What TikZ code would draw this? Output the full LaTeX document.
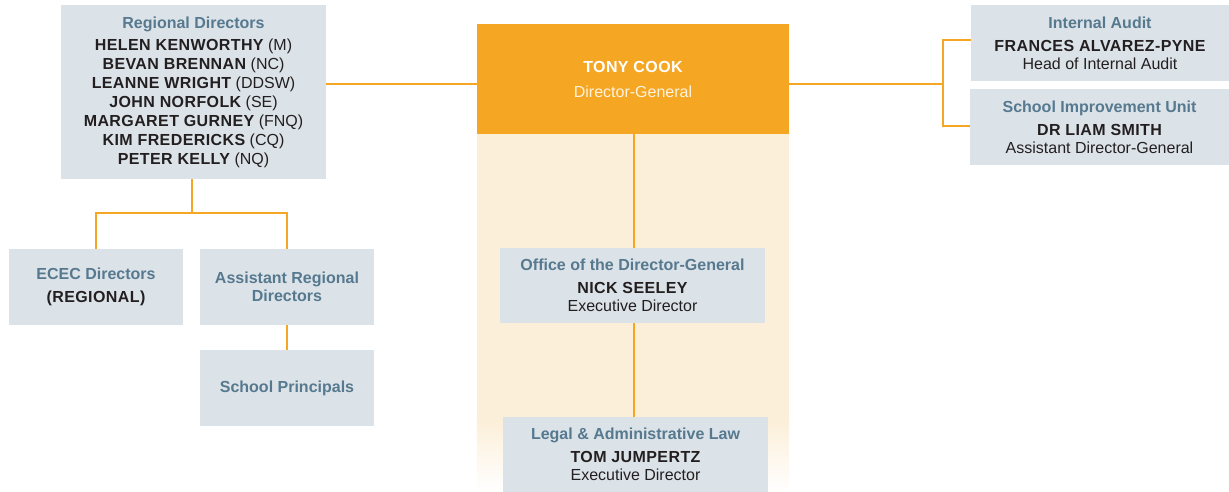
\documentclass[tikz,border=0pt]{standalone}
\usepackage{fontspec}
\setmainfont{Liberation Sans}
\newfontfamily\aralikli[LetterSpace=2.5]{Liberation Sans}
\usepackage{xcolor}
\usepackage{tikz}
\usetikzlibrary{calc,positioning}
\definecolor{turuncu}{HTML}{F5A623}
\definecolor{krem}{HTML}{FCEFD9}
\definecolor{kutuGri}{HTML}{DCE3E8}
\definecolor{baslikMavi}{HTML}{56798F}
\definecolor{koyu}{HTML}{231F20}
\definecolor{acikKrem}{HTML}{FFF3DC}
\newcommand{\grp}[1]{{\color{baslikMavi}\bfseries #1}}
\newcommand{\who}[1]{{\aralikli\bfseries #1}}

\begin{document}
\begin{tikzpicture}[x=1pt, y=-1pt,
  every node/.style={font=\fontsize{16}{18}\selectfont, text=koyu},
  kutu/.style={fill=kutuGri, inner sep=0pt, align=center},
  hat/.style={draw=turuncu, line width=2.5pt}]
\useasboundingbox (0,0) rectangle (1229,492);
% orta sutun
\node[fill=turuncu, minimum width=312pt, minimum height=110pt, align=center, inner sep=0pt] (dg) at (633,79)
  {\color{white}\who{TONY COOK}\\[7pt] \color{acikKrem}Director-General};
\fill[krem] (dg.south west) rectangle (dg.south east |- 0,420);
\shade[top color=krem, bottom color=white] (dg.west |- 0,420) rectangle (dg.east |- 0,492);
\node[kutu, minimum width=265pt, minimum height=75pt] (odg) at (632.5,285.5)
  {\grp{Office of the Director-General}\\[5pt] \who{NICK SEELEY}\\ Executive Director};
\node[kutu, minimum width=265pt, minimum height=75pt] (law) at (635.5,454.5)
  {\grp{Legal \& Administrative Law}\\[5pt] \who{TOM JUMPERTZ}\\ Executive Director};
% sol
\node[kutu, minimum width=265pt, minimum height=174pt, font=\fontsize{16}{19}\selectfont] (rd) at (193.5,92)
  {\grp{Regional Directors}\\[3pt]
   \who{HELEN KENWORTHY} (M)\\ \who{BEVAN BRENNAN} (NC)\\ \who{LEANNE WRIGHT} (DDSW)\\
   \who{JOHN NORFOLK} (SE)\\ \who{MARGARET GURNEY} (FNQ)\\ \who{KIM FREDERICKS} (CQ)\\
   \who{PETER KELLY} (NQ)};
\node[kutu, minimum width=174pt, minimum height=76pt] (ecec) at (96,287)
  {\grp{ECEC Directors}\\[5pt] \who{(REGIONAL)}};
\node[kutu, minimum width=174pt, minimum height=76pt] (ard) at (287,287)
  {\grp{Assistant Regional}\\ \grp{Directors}};
\node[kutu, minimum width=174pt, minimum height=76pt] (sp) at (287,388)
  {\grp{School Principals}};
% sag
\node[kutu, minimum width=258pt, minimum height=76pt] (ia) at (1100,43)
  {\grp{Internal Audit}\\[5pt] \who{FRANCES ALVAREZ-PYNE}\\ Head of Internal Audit};
\node[kutu, minimum width=259pt, minimum height=76pt] (siu) at (1099.5,127)
  {\grp{School Improvement Unit}\\[5pt] \who{DR LIAM SMITH}\\ Assistant Director-General};
% baglantilar
\coordinate (orta) at (0,84);
\draw[hat] (rd.east |- orta) -- (dg.west |- orta);
\draw[hat] (dg.east |- orta) -- ++(154,0) coordinate (sagcatal);
\draw[hat] (ia.west |- 0,40) -| (sagcatal) |- (siu.west |- 0,126);
\draw[hat] (rd.south -| 192,0) -- ++(0,34) coordinate (solcatal);
\draw[hat] (ecec.north) |- (solcatal) -| (ard.north);
\draw[hat] (ard.south) -- (sp.north);
\draw[hat] (dg.south -| 634,0) -- (odg.north -| 634,0);
\draw[hat] (odg.south -| 634,0) -- (law.north -| 634,0);
\end{tikzpicture}
\end{document}
